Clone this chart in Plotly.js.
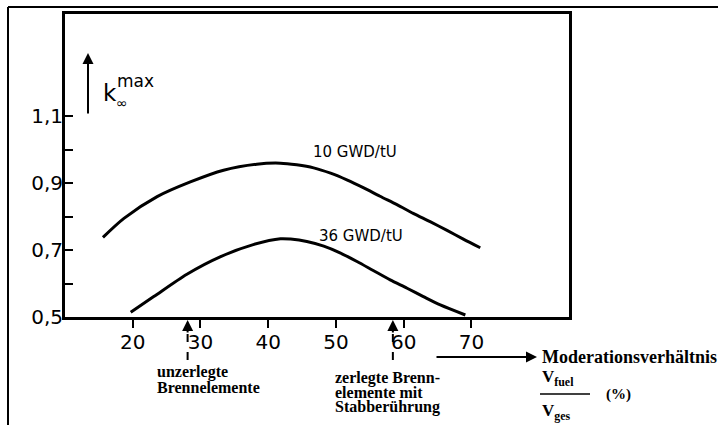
<!DOCTYPE html>
<html>
<head>
<meta charset="utf-8">
<script src="https://cdn.plot.ly/plotly-3.0.1.min.js"></script>
<style>html,body{margin:0;padding:0;background:#fff;}#chart{width:718px;height:425px;}</style>
</head>
<body>
<div id="chart"></div>
<script>
// Moderation ratio (%) and k_inf max for two burnups
const xTen = [15.6, 18.7, 23.6, 28.5, 33.4, 38.3, 41.8, 44.2, 46.7, 49.2, 51.6, 54.1, 56.5, 59.0, 61.4, 63.9, 66.4, 68.8, 71.3];
const yTen = [0.738, 0.795, 0.860, 0.904, 0.939, 0.957, 0.960, 0.955, 0.946, 0.930, 0.910, 0.886, 0.861, 0.836, 0.810, 0.785, 0.759, 0.733, 0.707];
const xThirtySix = [19.7, 23.1, 28.0, 32.9, 37.9, 41.8, 43.3, 45.7, 48.2, 50.6, 53.1, 55.5, 58.0, 60.5, 62.9, 65.4, 69.1];
const yThirtySix = [0.514, 0.561, 0.628, 0.680, 0.717, 0.734, 0.733, 0.726, 0.712, 0.692, 0.666, 0.639, 0.611, 0.586, 0.561, 0.536, 0.506];
const seriesNames = ['10 GWD/tU', '36 GWD/tU'];
const xTickVals = [20, 30, 40, 50, 60, 70];
const xTickText = ['20', '30', '40', '50', '60', '70'];
const yTickVals = [0.5, 0.6, 0.7, 0.8, 0.9, 1.0, 1.1];
const yTickText = ['0,5', '', '0,7', '', '0,9', '', '1,1'];
const markerX = [28.1, 58.4];

const W = 718, H = 425, ML = 65, MR = 149, MT = 14, MB = 108;
const PW = W - ML - MR, PH = H - MT - MB;
const XR = [10, 84.4], YR = [0.5, 1.406];
const px = v => (v - ML) / PW;           // pixel x -> paper
const py = v => (H - MB - v) / PH;       // pixel y -> paper
const dx = v => (v - XR[0]) / (XR[1] - XR[0]); // data x -> paper

const sans = 'DejaVu Sans, Arial, sans-serif';
const serif = 'Liberation Serif, Times New Roman, serif';

const traces = [
  {x: xTen, y: yTen, name: seriesNames[0], mode: 'lines', line: {color: '#000', width: 3, shape: 'spline', smoothing: 0.8}, hoverinfo: 'skip'},
  {x: xThirtySix, y: yThirtySix, name: seriesNames[1], mode: 'lines', line: {color: '#000', width: 3, shape: 'spline', smoothing: 0.8}, hoverinfo: 'skip'}
];

const ann = [];
const txt = (x, y, t, opts) => Object.assign({xref: 'paper', yref: 'paper', x: px(x), y: py(y), xanchor: 'center', yanchor: 'middle', text: t, showarrow: false, font: {family: sans, size: 15, color: '#000'}}, opts || {});
const arrow = (x, y, ax, ay) => ({xref: 'paper', yref: 'paper', x: x, y: y, ax: ax, ay: ay, text: '', showarrow: true, arrowhead: 2, arrowwidth: 2, arrowsize: 1.1, arrowcolor: '#000'});
// curve labels
ann.push(txt(355, 152, seriesNames[0]));
ann.push(txt(361, 236, seriesNames[1]));
// y axis label arrow and k
ann.push(arrow(px(88), py(53), 0, 62));
ann.push(txt(101, 93, 'k', {xanchor: 'left', font: {family: sans, size: 23, color: '#000'}}));
ann.push(txt(115, 81, 'max', {xanchor: 'left', font: {family: sans, size: 17, color: '#000'}}));
ann.push(txt(114, 103, '∞', {xanchor: 'left', font: {family: sans, size: 14, color: '#000'}}));
// markers below x axis
markerX.forEach(m => ann.push(arrow(dx(m), py(320), 0, 14)));
const serifFont = {family: serif, size: 16, color: '#000'};
ann.push(txt(155, 372, '<b>unzerlegte</b>', {xanchor: 'left', font: serifFont}));
ann.push(txt(155, 387, '<b>Brennelemente</b>', {xanchor: 'left', font: serifFont}));
ann.push(txt(333, 378, '<b>zerlegte Brenn-</b>', {xanchor: 'left', font: serifFont}));
ann.push(txt(333, 392, '<b>elemente mit</b>', {xanchor: 'left', font: serifFont}));
ann.push(txt(333, 407, '<b>Stabberührung</b>', {xanchor: 'left', font: serifFont}));
// x axis title
ann.push(arrow(px(537), py(357), -102, 0));
ann.push(txt(540, 357, '<b>Moderationsverhältnis</b>', {xanchor: 'left', font: {family: serif, size: 18, color: '#000'}}));
ann.push(txt(540, 378, '<b>V<sub>fuel</sub></b>', {xanchor: 'left', font: {family: serif, size: 17, color: '#000'}}));
ann.push(txt(540, 412, '<b>V<sub>ges</sub></b>', {xanchor: 'left', font: {family: serif, size: 17, color: '#000'}}));
ann.push(txt(604, 394, '<b>(%)</b>', {xanchor: 'left', font: {family: serif, size: 15, color: '#000'}}));

const shapes = [
  // outer scan border
  {type: 'line', xref: 'paper', yref: 'paper', x0: px(8), x1: px(718), y0: py(7), y1: py(7), line: {color: '#000', width: 2}},
  {type: 'line', xref: 'paper', yref: 'paper', x0: px(8), x1: px(8), y0: py(7), y1: py(425), line: {color: '#000', width: 2}},
  // fraction bar
  {type: 'line', xref: 'paper', yref: 'paper', x0: px(540), x1: px(590), y0: py(394), y1: py(394), line: {color: '#000', width: 1.5}}
];
markerX.forEach(m => {
  shapes.push({type: 'line', xref: 'paper', yref: 'paper', x0: dx(m), x1: dx(m), y0: py(334), y1: py(362), line: {color: '#000', width: 2, dash: '8px,10px'}});
});

const layout = {
  width: W, height: H,
  margin: {l: ML, r: MR, t: MT, b: MB, pad: 0},
  paper_bgcolor: '#fff', plot_bgcolor: '#fff',
  showlegend: false,
  xaxis: {
    range: XR, showgrid: false, zeroline: false,
    showline: true, mirror: true, linewidth: 3, linecolor: '#000',
    tickmode: 'array', tickvals: xTickVals, ticktext: xTickText,
    ticks: 'outside', ticklen: 8, tickwidth: 2, tickcolor: '#000',
    tickfont: {family: sans, size: 20, color: '#000'}, ticklabelstandoff: -3
  },
  yaxis: {
    range: YR, showgrid: false, zeroline: false,
    showline: true, mirror: true, linewidth: 3, linecolor: '#000',
    tickmode: 'array', tickvals: yTickVals, ticktext: yTickText,
    ticks: 'inside', ticklen: 8, tickwidth: 2, tickcolor: '#000',
    tickfont: {family: sans, size: 20, color: '#000'}, ticklabelstandoff: -5
  },
  annotations: ann,
  shapes: shapes
};

Plotly.newPlot('chart', traces, layout, {staticPlot: true, displayModeBar: false});
</script>
</body>
</html>
